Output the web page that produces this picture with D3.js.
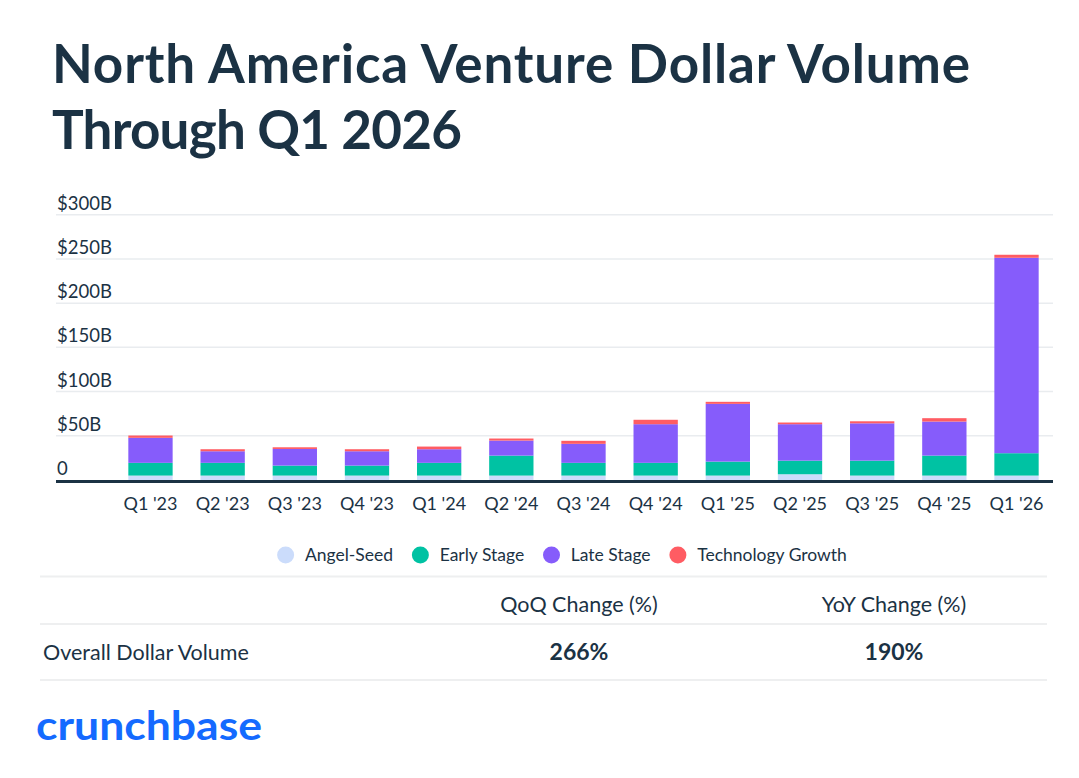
<!DOCTYPE html>
<html lang="en">
<head>
<meta charset="UTF-8">
<title>North America Venture Dollar Volume</title>
<script src="https://d3js.org/d3.v7.min.js"></script>
<style>
    html, body { margin: 0; padding: 0; background: #fff; }
    svg { display: block; font-family: Lato, "Noto Sans", sans-serif; }
</style>
</head>
<body>
<div id="chart"></div>
<script>
// values in $B
var quarters = ["Q1 '23", "Q2 '23", "Q3 '23", "Q4 '23", "Q1 '24", "Q2 '24", "Q3 '24",
                "Q4 '24", "Q1 '25", "Q2 '25", "Q3 '25", "Q4 '25", "Q1 '26"];
var angelSeed = [5, 5, 5, 5, 5, 5, 5, 5, 5, 6.5, 5, 5, 5];
var earlyStage = [14.4, 14.4, 11.3, 11.3, 14.4, 22.6, 14.4, 14.4, 15.8, 15.4, 16.9, 22.6, 25.3];
var lateStage = [28.3, 13.1, 18.8, 16.2, 15.4, 17, 21.5, 43.7, 65.3, 41.2, 42.2, 38.5, 221];
var techGrowth = [2.6, 2.3, 1.9, 2.3, 3, 2.3, 3.4, 5, 2.3, 1.9, 2.3, 3.8, 3.4];
var yTicks = [0, 50, 100, 150, 200, 250, 300];

var seriesNames = ["Angel-Seed", "Early Stage", "Late Stage", "Technology Growth"];
var seriesColors = ["#cbdcfb", "#00c2a3", "#865cfb", "#ff5c63"];

var tableHeaders = ["QoQ Change (%)", "YoY Change (%)"];
var tableRowLabel = "Overall Dollar Volume";
var tableValues = ["266%", "190%"];

var width = 1079, height = 778;
var ink = "#1b3244";

var svg = d3.select("#chart").append("svg")
    .attr("width", width)
    .attr("height", height);

// title, two lines stretched to the reference widths
var title = svg.append("text")
    .attr("fill", ink)
    .style("font-weight", 700)
    .style("font-size", "53px");
title.append("tspan").attr("x", 52).attr("y", 83)
    .attr("textLength", 918).attr("lengthAdjust", "spacing")
    .text("North America Venture Dollar Volume");
title.append("tspan").attr("x", 52).attr("y", 149)
    .attr("textLength", 410).attr("lengthAdjust", "spacing")
    .text("Through Q1 2026");

// stack the series per quarter
var table = quarters.map(function(q, i) {
    return { quarter: q, "Angel-Seed": angelSeed[i], "Early Stage": earlyStage[i],
             "Late Stage": lateStage[i], "Technology Growth": techGrowth[i] };
});
var stacked = d3.stack().keys(seriesNames)(table);

var x = d3.scaleBand()
    .domain(quarters)
    .range([114.4, 1052.6])
    .paddingInner(0.386)
    .paddingOuter(0.193);

var y = d3.scaleLinear()
    .domain([0, 300])
    .range([480, 214.7]);

// grid + y labels
var grid = svg.append("g");
grid.selectAll("line")
    .data(yTicks.filter(function(d) { return d > 0; }))
    .enter().append("line")
    .attr("x1", 56).attr("x2", 1053)
    .attr("y1", function(d) { return y(d); })
    .attr("y2", function(d) { return y(d); })
    .attr("stroke", "#e9ecef")
    .attr("stroke-width", 1.5);

grid.selectAll("text")
    .data(yTicks)
    .enter().append("text")
    .attr("x", 57)
    .attr("y", function(d) { return y(d) - 5; })
    .attr("fill", ink)
    .style("font-size", "18.5px")
    .text(function(d) { return d === 0 ? "0" : "$" + d + "B"; });

// bars
svg.append("g")
    .selectAll("g")
    .data(stacked)
    .enter().append("g")
    .attr("fill", function(d, i) { return seriesColors[i]; })
    .selectAll("rect")
    .data(function(d) { return d; })
    .enter().append("rect")
    .attr("x", function(d) { return x(d.data.quarter); })
    .attr("width", x.bandwidth())
    .attr("y", function(d) { return y(d[1]); })
    .attr("height", function(d) { return y(d[0]) - y(d[1]); });

// baseline axis
svg.append("line")
    .attr("x1", 56).attr("x2", 1053)
    .attr("y1", 481.5).attr("y2", 481.5)
    .attr("stroke", ink)
    .attr("stroke-width", 3);

// x labels
var xAxis = d3.axisBottom(x).tickSize(0).tickPadding(0);
var xg = svg.append("g")
    .attr("transform", "translate(0,494)")
    .call(xAxis);
xg.select(".domain").remove();
xg.selectAll("text")
    .attr("fill", ink)
    .attr("dy", "0.9em")
    .style("font-size", "18px")
    .style("font-family", "Lato, 'Noto Sans', sans-serif");

// legend
var legend = svg.append("g");
var items = legend.selectAll("g")
    .data(seriesNames)
    .enter().append("g");
items.append("circle")
    .attr("r", 8.5)
    .attr("cy", 555)
    .attr("fill", function(d, i) { return seriesColors[i]; });
items.append("text")
    .attr("y", 561)
    .attr("fill", ink)
    .style("font-size", "17.5px")
    .text(function(d) { return d; });

var cursor = 0;
var offsets = [];
items.each(function() {
    var w = d3.select(this).select("text").node().getComputedTextLength();
    offsets.push(cursor);
    cursor += 19.3 + w + 27.3;
});
var totalW = cursor - 27.3 + 8.5;
var startX = 562 - totalW / 2 + 8.5;
items.each(function(d, i) {
    var g = d3.select(this);
    g.select("circle").attr("cx", startX + offsets[i]);
    g.select("text").attr("x", startX + offsets[i] + 19.3);
});

// summary table
var rules = [576.5, 624, 680];
svg.append("g").selectAll("line")
    .data(rules)
    .enter().append("line")
    .attr("x1", 40).attr("x2", 1047)
    .attr("y1", function(d) { return d; })
    .attr("y2", function(d) { return d; })
    .attr("stroke", "#eeeff0")
    .attr("stroke-width", 2);

var colX = [579, 894];
svg.append("g").selectAll("text")
    .data(tableHeaders)
    .enter().append("text")
    .attr("x", function(d, i) { return colX[i]; })
    .attr("y", 611.5)
    .attr("text-anchor", "middle")
    .attr("fill", ink)
    .style("font-size", "21.5px")
    .text(function(d) { return d; });

svg.append("text")
    .attr("x", 43)
    .attr("y", 660)
    .attr("fill", ink)
    .style("font-size", "21.5px")
    .text(tableRowLabel);

svg.append("g").selectAll("text")
    .data(tableValues)
    .enter().append("text")
    .attr("x", function(d, i) { return colX[i]; })
    .attr("y", 660)
    .attr("text-anchor", "middle")
    .attr("fill", ink)
    .style("font-size", "23px")
    .style("font-weight", 700)
    .text(function(d) { return d; });

// logo wordmark
svg.append("text")
    .attr("x", 36)
    .attr("y", 740)
    .attr("fill", "#146aff")
    .attr("textLength", 226)
    .attr("lengthAdjust", "spacingAndGlyphs")
    .style("font-size", "41px")
    .style("font-weight", 700)
    .text("crunchbase");
</script>
</body>
</html>
